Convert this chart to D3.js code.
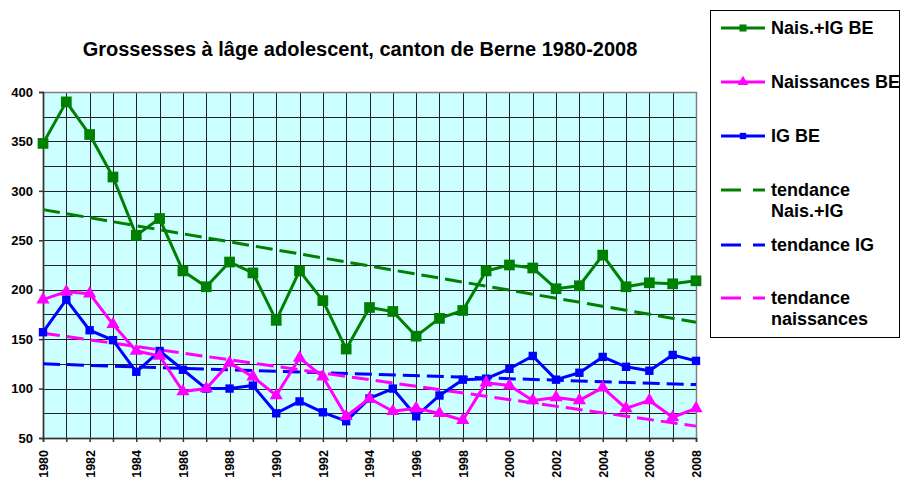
<!DOCTYPE html>
<html>
<head>
<meta charset="utf-8">
<script src="https://cdn.jsdelivr.net/npm/d3@7"></script>
<style>
  body { margin: 0; background: #fff; }
  text { font-family: "Liberation Sans", Arial, sans-serif; font-weight: bold; }
</style>
</head>
<body>
<svg id="chart" width="901" height="479"></svg>
<script>
const years = d3.range(1980, 2009);
const naisIG = [348, 390, 357, 314, 255, 272, 219, 203, 228, 217, 169, 219, 189, 140, 182, 178, 153, 171, 179, 219, 225, 222, 201, 204, 235, 203, 207, 206, 209];
const naissances = [190, 198, 196, 165, 138, 133, 97, 100, 126, 112, 93, 131, 112, 72, 90, 77, 80, 75, 68, 106, 103, 88, 91, 88, 101, 80, 88, 71, 80];
const ig = [157, 190, 159, 149, 117, 138, 119, 100, 100, 103, 75, 87, 76, 67, 90, 100, 72, 93, 109, 110, 120, 133, 109, 116, 132, 122, 118, 134, 128];
// trend lines, endpoints
const trendYears = [1980, 2008];
const trendNaisIG = [281, 167];
const trendIG = [125, 104];
const trendNaissances = [156, 62];
const yTicks = [50, 100, 150, 200, 250, 300, 350, 400];
const xTickYears = d3.range(1980, 2009, 2);

const svg = d3.select('#chart');
const margin = { left: 43, right: 205, top: 92, bottom: 41 };
const width = 901 - margin.left - margin.right;
const height = 479 - margin.top - margin.bottom;

const x = d3.scaleLinear().domain([1980, 2008]).range([margin.left, margin.left + width]);
const y = d3.scaleLinear().domain([50, 400]).range([margin.top + height, margin.top]);

// title
svg.append('text')
  .attr('x', 360).attr('y', 56)
  .attr('text-anchor', 'middle')
  .attr('font-size', 20)
  .text('Grossesses à lâge adolescent, canton de Berne 1980-2008');

// plot background
svg.append('rect')
  .attr('x', x(1980)).attr('y', y(400))
  .attr('width', x(2008) - x(1980)).attr('height', y(50) - y(400))
  .attr('fill', '#ccffff');

// grid
const grid = svg.append('g').attr('stroke', '#222').attr('stroke-width', 1);
grid.selectAll('.hg').data(d3.range(75, 400, 25)).enter().append('line')
  .attr('x1', x(1980)).attr('x2', x(2008))
  .attr('y1', d => Math.round(y(d)) + 0.5).attr('y2', d => Math.round(y(d)) + 0.5);
grid.selectAll('.vg').data(d3.range(1981, 2008)).enter().append('line')
  .attr('y1', y(400)).attr('y2', y(50))
  .attr('x1', d => Math.round(x(d)) + 0.5).attr('x2', d => Math.round(x(d)) + 0.5);

svg.append('rect')
  .attr('x', Math.round(x(1980)) + 0.5).attr('y', Math.round(y(400)) + 0.5)
  .attr('width', Math.round(x(2008) - x(1980))).attr('height', Math.round(y(50) - y(400)))
  .attr('fill', 'none').attr('stroke', '#808080').attr('stroke-width', 1.5);

// axes
const yAxis = svg.append('g')
  .attr('transform', `translate(${x(1980)},0)`)
  .call(d3.axisLeft(y).tickValues(yTicks).tickSize(4).tickPadding(6));
yAxis.selectAll('text').attr('font-size', 13).attr('fill', '#000');
yAxis.selectAll('line,path').attr('stroke', '#333').attr('stroke-width', 1.5);

const xAxis = svg.append('g')
  .attr('transform', `translate(0,${y(50)})`)
  .call(d3.axisBottom(x).tickValues(years).tickSize(4).tickFormat(d => xTickYears.includes(d) ? d : ''));
xAxis.selectAll('line,path').attr('stroke', '#333').attr('stroke-width', 1.5);
xAxis.selectAll('text')
  .attr('font-size', 12.5).attr('fill', '#000')
  .attr('transform', 'rotate(-90)')
  .attr('text-anchor', 'end')
  .attr('x', -12).attr('y', 0).attr('dy', '0.35em');

// trend lines
const trends = [
  { vals: trendNaisIG, color: '#008000' },
  { vals: trendIG, color: '#0000ff' },
  { vals: trendNaissances, color: '#ff00ff' }
];
const lineGen = d3.line().x(d => x(d[0])).y(d => y(d[1]));
trends.forEach(t => {
  svg.append('path')
    .attr('d', lineGen(trendYears.map((yr, i) => [yr, t.vals[i]])))
    .attr('fill', 'none').attr('stroke', t.color)
    .attr('stroke-width', 3).attr('stroke-dasharray', '17,7');
});

// data series
const series = [
  { vals: ig, color: '#0000ff', shape: d3.symbolSquare, size: 70 },
  { vals: naissances, color: '#ff00ff', shape: d3.symbolTriangle, size: 75 },
  { vals: naisIG, color: '#008000', shape: d3.symbolSquare, size: 115 }
];
series.forEach(s => {
  const pts = years.map((yr, i) => [yr, s.vals[i]]);
  svg.append('path').attr('d', lineGen(pts))
    .attr('fill', 'none').attr('stroke', s.color).attr('stroke-width', 3)
    .attr('stroke-linejoin', 'round');
  svg.append('g').selectAll('path').data(pts).enter().append('path')
    .attr('transform', d => `translate(${x(d[0])},${y(d[1])})`)
    .attr('d', d3.symbol().type(s.shape).size(s.size))
    .attr('fill', s.color);
});

// legend
const legend = svg.append('g');
legend.append('rect')
  .attr('x', 710.5).attr('y', 10.5).attr('width', 189).attr('height', 327)
  .attr('fill', '#fff').attr('stroke', '#000').attr('stroke-width', 1);

const legendItems = [
  { lines: ['Nais.+IG BE'], y: 28, color: '#008000', shape: d3.symbolSquare, size: 50, dash: null },
  { lines: ['Naissances BE'], y: 82, color: '#ff00ff', shape: d3.symbolTriangle, size: 50, dash: null },
  { lines: ['IG BE'], y: 136, color: '#0000ff', shape: d3.symbolSquare, size: 40, dash: null },
  { lines: ['tendance', 'Nais.+IG'], y: 190, color: '#008000', dash: '20,12' },
  { lines: ['tendance IG'], y: 245, color: '#0000ff', dash: '20,12' },
  { lines: ['tendance', 'naissances'], y: 298, color: '#ff00ff', dash: '20,12' }
];
legendItems.forEach(it => {
  legend.append('line')
    .attr('x1', 721).attr('x2', 765).attr('y1', it.y).attr('y2', it.y)
    .attr('stroke', it.color).attr('stroke-width', 3)
    .attr('stroke-dasharray', it.dash);
  if (it.shape) {
    legend.append('path')
      .attr('transform', `translate(743,${it.y})`)
      .attr('d', d3.symbol().type(it.shape).size(it.size))
      .attr('fill', it.color);
  }
  it.lines.forEach((ln, j) => {
    legend.append('text')
      .attr('x', 771).attr('y', it.y + j * 21).attr('dy', '0.35em')
      .attr('font-size', 18).attr('fill', '#000')
      .text(ln);
  });
});
</script>
</body>
</html>
